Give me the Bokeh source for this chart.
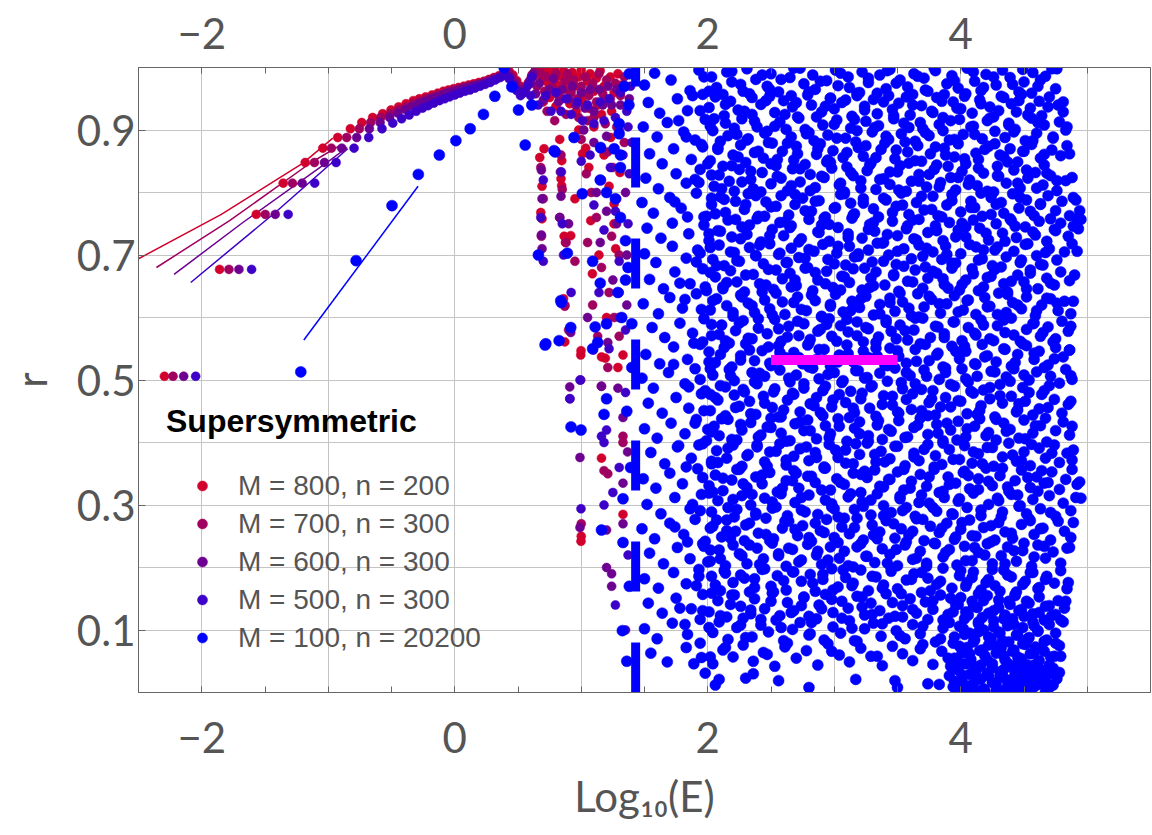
from bokeh.plotting import figure
from bokeh.models import FixedTicker, Legend, LegendItem, LinearAxis
from bokeh.embed import file_html
from bokeh.resources import INLINE

# ---------------- data ----------------
x_major = [-2, 0, 2, 4]
x_minor = [-2.5, -2, -1.5, -1, -0.5, 0, 0.5, 1, 1.5, 2, 2.5, 3, 3.5, 4, 4.5, 5, 5.5]
x_grid = [-2, -1, 0, 1, 2, 3, 4, 5]
y_major = [0.1, 0.3, 0.5, 0.7, 0.9]
y_grid = [0.1, 0.2, 0.3, 0.4, 0.5, 0.6, 0.7, 0.8, 0.9]

labels = ["M = 800, n = 200", "M = 700, n = 300", "M = 600, n = 300",
          "M = 500, n = 300", "M = 100, n = 20200"]
colors = ["#d2002d", "#a0005f", "#6e0091", "#3c00c8", "#0000ff"]

# thin lines of the four large-M series
line800_x = [-2.5, -1.845, -1.20, -0.964]
line800_r = [0.694, 0.765, 0.847, 0.887]
line700_x = [-2.358, -1.78, -1.135, -0.91]
line700_r = [0.680, 0.755, 0.848, 0.875]
line600_x = [-2.219, -1.675, -0.99, -0.85]
line600_r = [0.669, 0.752, 0.851, 0.872]
line500_x = [-2.087, -1.419, -0.846]
line500_r = [0.656, 0.768, 0.870]
line100_x = [-1.193, -0.29]
line100_r = [0.564, 0.81]

# dashed bar and magenta bar
bar_x = [1.43, 1.43]
bar_r = [0.0, 1.0]
mag_x = [2.5, 3.5]
mag_r = [0.532, 0.532]

m800 = [(-2.295,0.506),(-1.859,0.677),(-1.569,0.765),(-1.356,0.815),(-1.182,0.848),(-1.043,0.871),
        (-0.925,0.888),(-0.825,0.902),(-0.735,0.912),(-0.649,0.92),(-0.57,0.926),(-0.504,0.932),
        (-0.444,0.937),(-0.385,0.942),(-0.328,0.947),(-0.28,0.95),(-0.23,0.953),(-0.18,0.956),
        (-0.135,0.959),(-0.09,0.962),(-0.05,0.964),(-0.01,0.966),(0.03,0.968),(0.07,0.97),(0.11,0.972),
        (0.15,0.974),(0.19,0.976),(0.23,0.978),(0.27,0.981),(0.31,0.984),(0.35,0.987),(0.39,0.991),
        (0.43,0.994),(0.46,0.988),(0.49,0.979),(0.52,0.97),(0.55,0.966),(0.58,0.975),(0.61,0.988),(0.64,0.997),
        (0.66,0.995),(0.69,0.982),(0.72,0.996),(0.74,0.975),(0.76,0.99),(0.79,0.998),(0.81,0.972),(0.83,0.986),
        (0.86,0.995),(0.88,0.965),(0.9,0.98),(0.93,0.992),(0.95,0.97),(0.98,0.985),(1.0,0.996),(1.02,0.958),
        (1.05,0.978),(1.07,0.99),(1.1,0.962),(1.12,0.983),(1.15,0.995),(1.18,0.97),(1.2,0.948),(1.23,0.985),
        (1.26,0.96),(1.29,0.99),(1.32,0.972),(0.7,0.945),(0.75,0.952),(0.8,0.938),(0.85,0.95),(0.91,0.942),
        (0.96,0.93),(1.01,0.945),(1.06,0.935),(1.13,0.94),(1.16,0.925),(1.24,0.93),
        (0.706,0.87),(0.672,0.856),(0.69,0.81),(0.68,0.768),(0.69,0.758),(0.83,0.885),(0.846,0.851),
        (0.84,0.822),(0.845,0.811),(0.865,0.73),(0.875,0.72),(0.86,0.63),(0.87,0.62),(0.87,0.561),
        (0.998,0.547),(0.996,0.54),(1.035,0.871),(1.01,0.862),(1.06,0.84),(1.233,0.888),(1.26,0.782),
        (1.306,0.832),(1.272,0.71),(1.259,0.75),(1.075,0.755),(0.917,0.731),(1.088,0.67),(0.98,0.9),
        (1.1,0.905),(1.18,0.86),(1.0,0.25),(0.998,0.242),(1.16,0.537),(1.19,0.535),(1.29,0.52),(1.33,0.54),
        (1.16,0.375),(1.33,0.285),(1.2,0.6),(1.14,0.7),(1.22,0.81),(0.95,0.79),(1.3,0.64)]

m700 = [(-2.227,0.506),(-1.785,0.677),(-1.498,0.765),(-1.283,0.815),(-1.109,0.848),(-0.975,0.871),
        (-0.854,0.888),(-0.754,0.902),(-0.665,0.912),(-0.585,0.92),(-0.51,0.926),(-0.445,0.932),
        (-0.385,0.937),(-0.33,0.942),(-0.275,0.946),(-0.225,0.95),(-0.175,0.953),(-0.13,0.956),
        (-0.085,0.959),(-0.045,0.962),(-0.005,0.964),(0.035,0.966),(0.075,0.968),(0.115,0.97),
        (0.155,0.972),(0.195,0.974),(0.235,0.977),(0.275,0.98),(0.315,0.983),(0.355,0.986),(0.395,0.99),
        (0.425,0.992),(0.455,0.985),(0.485,0.976),(0.515,0.968),(0.545,0.962),(0.575,0.971),(0.605,0.984),
        (0.635,0.994),
        (0.62,0.985),(0.65,0.97),(0.68,0.99),(0.71,0.962),(0.73,0.985),(0.77,0.968),(0.8,0.99),(0.82,0.955),
        (0.87,0.978),(0.89,0.99),(0.92,0.96),(0.94,0.98),(0.97,0.95),(1.0,0.97),(1.03,0.985),(1.06,0.955),
        (1.09,0.975),(1.12,0.945),(1.14,0.99),(1.17,0.958),(1.2,0.98),(1.23,0.95),(1.27,0.975),(1.31,0.955),
        (1.34,0.985),(0.73,0.93),(0.79,0.915),(0.88,0.925),(0.98,0.92),(1.05,0.915),(1.1,0.92),(1.19,0.91),
        (1.28,0.905),(0.68,0.84),(0.7,0.79),(0.685,0.73),(0.84,0.86),(0.85,0.805),(0.83,0.76),(0.88,0.72),
        (0.87,0.618),(0.9,0.58),(1.0,0.885),(1.04,0.83),(1.08,0.8),(1.12,0.76),(1.16,0.82),(1.21,0.865),
        (1.25,0.84),(1.28,0.79),(1.24,0.73),(1.3,0.7),(1.09,0.62),(1.16,0.68),(1.22,0.64),(1.3,0.57),
        (1.21,0.52),(1.0,0.27),(1.16,0.49),(1.33,0.41),(1.33,0.4),(1.18,0.355),(1.21,0.35),(1.13,0.57),
        (1.26,0.6),(0.95,0.69),(1.05,0.72),(1.34,0.88)]

m600 = [(-2.143,0.506),(-1.706,0.677),(-1.419,0.765),(-1.206,0.815),(-1.03,0.848),(-0.893,0.871),
        (-0.775,0.888),(-0.675,0.902),(-0.59,0.912),(-0.515,0.92),(-0.45,0.927),(-0.39,0.933),
        (-0.335,0.938),(-0.285,0.942),(-0.235,0.946),(-0.19,0.95),(-0.145,0.953),(-0.1,0.956),
        (-0.06,0.959),(-0.02,0.961),(0.02,0.963),(0.06,0.966),(0.1,0.968),(0.14,0.97),(0.18,0.972),
        (0.22,0.974),(0.26,0.977),(0.3,0.98),(0.34,0.983),(0.38,0.987),(0.41,0.99),(0.44,0.984),
        (0.47,0.974),(0.5,0.965),(0.53,0.958),(0.56,0.965),(0.59,0.978),(0.62,0.99),
        (0.6,0.975),(0.64,0.958),(0.67,0.975),(0.7,0.948),(0.75,0.965),(0.78,0.982),(0.82,0.945),(0.85,0.965),
        (0.9,0.95),(0.93,0.97),(0.96,0.94),(1.0,0.96),(1.03,0.935),(1.07,0.965),(1.1,0.93),(1.14,0.965),
        (1.17,0.94),(1.21,0.97),(1.24,0.94),(1.28,0.965),(1.31,0.94),(1.35,0.97),(1.38,0.95),
        (0.685,0.836),(0.69,0.79),(0.685,0.732),(0.69,0.71),(0.835,0.833),(0.84,0.794),(0.83,0.76),(0.9,0.75),
        (0.917,0.576),(0.909,0.489),(0.91,0.47),(0.996,0.5),(0.99,0.376),(0.99,0.264),(1.096,0.548),
        (1.21,0.56),(1.159,0.49),(1.29,0.487),(1.33,0.44),(1.366,0.385),(1.33,0.335),(1.33,0.27),(1.2,0.2),
        (1.24,0.19),(1.24,0.17),(1.2,0.26),(1.02,0.9),(1.1,0.88),(1.2,0.89),(1.3,0.9),(1.12,0.8),(1.2,0.77),
        (1.35,0.8),(1.28,0.75),(1.15,0.72),(1.36,0.7),(1.25,0.66),(1.05,0.6),(1.36,0.62),(1.3,0.6)]

m500 = [(-2.048,0.506),(-1.606,0.677),(-1.317,0.765),(-1.107,0.815),(-0.938,0.848),(-0.796,0.871),
        (-0.68,0.888),(-0.575,0.902),(-0.49,0.911),(-0.42,0.918),(-0.36,0.924),(-0.305,0.93),
        (-0.255,0.935),(-0.21,0.939),(-0.165,0.943),(-0.12,0.947),(-0.08,0.95),(-0.04,0.953),(0.0,0.956),
        (0.04,0.959),(0.08,0.962),(0.12,0.964),(0.16,0.967),(0.2,0.97),(0.24,0.973),(0.28,0.976),
        (0.32,0.98),(0.36,0.984),(0.4,0.988),(0.43,0.982),(0.46,0.972),(0.49,0.963),(0.52,0.955),
        (0.55,0.96),(0.58,0.972),(0.61,0.985),
        (0.6,0.955),(0.66,0.94),(0.72,0.955),(0.76,0.93),(0.8,0.96),(0.84,0.93),(0.88,0.95),(0.92,0.925),
        (0.97,0.945),(1.01,0.915),(1.05,0.94),(1.1,0.91),(1.15,0.945),(1.18,0.915),(1.22,0.95),(1.27,0.92),
        (1.31,0.96),(1.36,0.93),(1.39,0.97),(1.37,0.905),
        (0.7,0.82),(0.68,0.76),(0.7,0.69),(0.843,0.833),(0.85,0.75),(0.86,0.7),(0.92,0.64),(0.998,0.294),
        (0.99,0.5),(0.91,0.47),(1.18,0.4),(1.16,0.41),(1.2,0.42),(1.0,0.85),(1.07,0.86),(1.15,0.87),
        (1.23,0.84),(1.33,0.86),(1.38,0.83),(1.1,0.78),(1.18,0.74),(1.27,0.77),(1.37,0.75),(1.3,0.69),
        (1.35,0.58),(1.22,0.55),(1.14,0.64),(1.35,0.48),(1.3,0.36),(1.25,0.32),(1.37,0.22),(1.27,0.14),
        (1.35,0.1),(1.18,0.3),(1.4,0.88)]

m100_low = [(-1.217,0.513),(-0.78,0.691),(-0.496,0.779),(-0.288,0.829),(-0.122,0.86),(0.009,0.883),
            (0.122,0.902),(0.227,0.925),(0.317,0.954),(0.451,0.969),(0.39,1.0),(0.504,0.932),(0.557,0.876),
            (0.609,0.94),(0.793,0.865),(0.661,0.70),(0.843,0.624),(0.917,0.584),(0.714,0.556),(0.825,0.563),
            (0.919,0.425),(0.998,0.42),(1.325,0.099),(1.2,0.47),(1.18,0.445),(1.33,0.31),(1.16,0.26),
            (1.33,0.24),(1.09,0.55),(1.13,0.56),(0.943,0.888),(0.785,0.867),(1.153,0.872),(1.008,0.798),
            (0.89,0.703),(0.838,0.627),(0.72,0.558),(1.11,0.585),(1.2,0.59),(1.3,0.894),(1.377,0.94),
            (1.3,0.91),(1.26,0.87),(1.31,0.86),(1.15,0.82),(1.31,0.84),(1.2,0.8),(1.27,0.79),(1.35,0.723),
            (1.31,0.76),(1.35,0.66),(1.37,0.68),(1.29,0.64),(1.15,0.655),(1.09,0.69),(1.32,0.6),(1.4,0.59),
            (1.38,0.99),(1.34,0.97),(1.4,0.52),(1.36,0.45),(1.39,0.36),(1.38,0.17),(1.36,0.05)]

# dense cloud of the M = 100 series: (Log10(E) x 100, r x 1000)
m100_cloud = [
 (150,972),(158,991),(171,980),(186,963),(193,996),(203,985),(207,968),(215,993),(219,977),(228,962),(231,998),(238,981),(247,970),(250,990),(256,961),(265,984),(268,999),(276,974),(283,988),(285,965),(294,979),(301,996),(303,971),(311,985),(320,960),(322,993),(327,976),(336,988),(341,966),(344,997),(352,980),(358,969),(363,990),(371,983),(374,962),(380,995),(389,974),(393,987),(398,967),(405,999),(411,978),(416,963),(420,989),(428,972),(433,996),(439,984),(446,961),(450,977),(457,992),(461,970),(467,986),(472,998),(475,966),
 (153,944),(162,927),(176,950),(184,931),(196,957),(201,936),(206,953),(213,923),(218,946),(224,932),(233,958),(235,925),(242,941),(249,954),(253,928),(260,947),(267,937),(271,921),(279,956),(282,940),(290,929),(297,951),(300,934),(306,944),(314,922),(318,959),(324,938),(331,949),(334,926),(343,955),(346,933),(351,943),(360,924),(362,957),(369,939),(377,930),(381,952),(386,920),(394,945),(397,935),(404,958),(409,927),(415,948),(423,937),(426,921),(432,954),(440,942),(444,929),(448,957),(455,935),(462,946),(464,923),(470,953),(477,940),(481,929),
 (149,905),(160,889),(168,912),(181,897),(190,884),(198,917),(204,899),(210,882),(214,911),(223,893),(227,918),(232,886),(239,905),(245,895),(248,880),(257,913),(262,901),(266,889),(272,919),(280,896),(284,883),(291,908),(295,892),(302,916),(309,887),(313,903),(317,881),(325,914),(330,897),(335,907),(343,885),(347,918),(353,894),(359,904),(364,882),(368,912),(375,891),(383,909),(386,899),(391,884),(399,917),(402,893),(410,906),(417,886),(421,915),(427,898),(435,888),(438,911),(443,901),(451,883),(456,919),(460,895),(466,908),(473,887),(478,913),(483,900),
 (154,862),(164,846),(173,870),(187,853),(195,877),(202,851),(208,869),(212,842),(220,860),(226,876),(230,848),(237,864),(244,855),(251,879),(254,843),(259,866),(268,852),(270,874),(277,845),(286,861),(289,878),(294,849),(299,867),(307,856),(310,841),(319,872),(323,858),(329,847),(337,869),(340,879),(348,854),(352,843),(358,865),(366,875),(369,850),(376,862),(381,844),(387,871),(395,857),(398,878),(404,846),(412,863),(414,853),(422,874),(429,842),(431,860),(439,870),(445,849),(449,866),(456,877),(463,855),(466,844),(472,868),(479,859),(484,875),
 (151,823),(161,806),(175,830),(183,815),(194,837),(205,810),(209,828),(217,818),(221,802),(225,837),(234,821),(236,806),(243,832),(250,814),(255,826),(263,803),(267,838),(273,817),(281,829),(285,808),(292,824),(298,839),(304,812),(308,801),(315,827),(321,819),(326,835),(333,805),(339,822),(344,813),(350,833),(357,802),(361,818),(367,829),(373,809),(379,837),(384,816),(392,824),(396,804),(401,834),(407,820),(413,811),(418,831),(426,801),(430,826),(436,815),(442,836),(447,807),(453,823),(459,832),(465,812),(471,827),(476,803),(483,819),
 (148,784),(157,767),(170,792),(179,775),(191,799),(199,762),(203,781),(210,793),(214,768),(222,786),(229,773),(232,798),(240,762),(246,785),(250,777),(258,795),(264,764),(269,781),(275,791),(282,770),(288,787),(293,761),(301,776),(305,797),(313,783),(316,766),(323,790),(331,774),(335,761),(341,788),(349,778),(353,799),(359,765),(365,784),(371,772),(378,794),(382,763),(389,780),(393,797),(400,769),(408,786),(411,776),(417,762),(424,792),(428,781),(434,767),(441,798),(446,775),(452,788),(458,763),(463,782),(469,795),(475,771),(480,786),(486,763),(489,792),
 (152,743),(163,727),(172,751),(185,734),(197,748),(201,723),(208,739),(216,756),(219,729),(227,745),(231,733),(239,758),(242,721),(251,741),(257,752),(260,731),(266,747),(274,726),(280,757),(287,737),(290,748),(296,722),(303,744),(311,734),(314,759),(322,727),(328,749),(332,738),(339,720),(346,754),(350,731),(357,742),(363,726),(367,757),(374,736),(380,747),(386,723),(391,752),(398,740),(404,729),(410,756),(415,743),(422,724),(428,750),(433,735),(439,758),(444,728),(451,745),(457,737),(462,754),(468,722),(474,741),(479,751),(485,730),(489,746),(492,758),
 (150,702),(159,688),(172,714),(183,695),(192,708),(204,693),(209,716),(213,683),(221,704),(225,690),(233,712),(238,699),(244,686),(249,718),(256,701),(263,688),(266,711),(272,696),(279,680),(284,706),(291,717),(295,693),(302,703),(309,684),(312,714),(319,698),(327,708),(330,689),(338,719),(343,700),(349,685),(355,710),(361,694),(367,716),(372,681),(378,705),(385,693),(388,714),(396,687),(400,702),(407,717),(414,692),(418,708),(425,683),(429,713),(436,697),(442,706),(447,688),(453,718),(460,699),(465,684),(470,710),(476,692),(482,705),(488,718),
 (154,661),(165,646),(174,673),(186,654),(196,678),(199,643),(206,665),(212,649),(218,675),(223,657),(229,641),(236,669),(241,654),(248,677),(252,645),(259,662),(265,671),(270,651),(277,679),(283,643),(287,660),(294,674),(299,648),(306,666),(312,656),(315,678),(322,644),(329,663),(333,673),(340,652),(347,667),(351,642),(358,658),(364,676),(370,647),(374,663),(381,671),(387,653),(393,679),(399,644),(404,660),(410,670),(418,649),(421,664),(427,677),(434,654),(437,641),(445,668),(450,657),(455,676),(461,646),(468,663),(474,652),(479,673),(486,659),
 (149,622),(161,606),(170,632),(180,615),(191,638),(202,612),(207,630),(215,619),(220,602),(226,636),(232,623),(237,608),(245,628),(249,614),(254,639),(261,605),(268,624),(271,633),(278,611),(285,627),(290,601),(297,618),(301,637),(307,609),(314,626),(320,616),(325,634),(331,604),(336,621),(344,631),(348,610),(354,625),(361,603),(366,638),(371,617),(377,629),(384,607),(389,622),(395,635),(402,612),(405,627),(412,605),(419,632),(423,618),(430,639),(436,608),(441,624),(448,614),(452,633),(459,603),(464,620),(471,630),(477,611),(482,626),(487,606),
 (156,584),(166,568),(178,591),(188,575),(197,598),(203,571),(211,588),(214,563),(222,579),(228,595),(235,566),(240,583),(247,574),(253,597),(258,562),(264,586),(272,571),(276,590),(281,565),(289,581),(296,598),(298,570),(305,587),(311,577),(318,593),(323,561),(327,582),(335,569),(341,596),(345,578),(352,588),(358,564),(363,580),(370,599),(376,568),(382,585),(387,574),(394,593),(401,563),(406,584),(412,572),(416,596),(423,566),(429,587),(435,576),(440,599),(447,562),(452,581),(458,591),(463,570),(469,585),(475,566),(480,594),(485,578),
 (151,541),(162,526),(173,553),(184,533),(194,557),(201,545),(206,528),(213,552),(219,521),(226,539),(230,558),(237,531),(243,547),(250,523),(256,555),(261,536),(268,544),(275,526),(280,559),(286,533),(292,549),(297,522),(304,540),(310,556),(315,529),(323,546),(327,536),(333,560),(340,524),(344,551),(351,538),(357,527),(364,549),(368,558),(375,531),(382,543),(386,521),(393,554),(399,534),(404,546),(411,526),(417,557),(421,539),(428,529),(434,550),(440,522),(445,541),(452,555),(458,533),(462,546),(469,524),(475,552),(481,537),(486,548),
 (148,503),(157,487),(169,512),(182,494),(190,518),(198,483),(204,508),(210,491),(217,517),(221,499),(228,485),(235,512),(239,494),(245,506),(252,481),(257,516),(265,497),(270,508),(276,487),(283,519),(288,502),(293,490),(300,512),(306,496),(313,482),(317,515),(324,503),(329,489),(336,511),(342,498),(348,519),(354,486),(360,507),(364,494),(371,516),(378,483),(383,501),(388,512),(395,490),(401,518),(406,497),(413,506),(418,484),(424,514),(431,493),(436,505),(442,518),(449,488),(454,500),(460,513),(466,483),(471,506),(478,495),(483,517),(488,501),
 (153,463),(164,447),(175,472),(185,455),(195,478),(202,451),(208,468),(214,443),(221,476),(225,458),(233,466),(238,445),(244,474),(251,456),(256,441),(263,468),(267,479),(273,449),(281,462),(286,472),(291,443),(298,457),(304,477),(309,464),(316,448),(321,470),(328,455),(333,442),(339,475),(346,460),(350,449),(357,469),(362,478),(369,451),(375,464),(380,444),(388,472),(392,457),(398,467),(405,446),(410,479),(416,459),(423,470),(427,441),(433,463),(440,474),(445,452),(451,466),(457,444),(464,477),(469,456),(474,469),(480,447),(485,461),
 (150,422),(160,407),(171,431),(182,414),(191,437),(199,403),(205,426),(209,411),(216,437),(223,404),(227,420),(234,432),(240,409),(247,425),(250,439),(258,415),(262,402),(269,430),(276,419),(279,436),(286,406),(293,427),(297,414),(303,438),(310,402),(316,423),(320,433),(327,411),(334,428),(338,405),(345,418),(351,435),(356,408),(363,424),(368,439),(374,413),(381,429),(386,403),(392,420),(398,434),(404,409),(411,426),(415,438),(422,416),(428,404),(434,431),(439,421),(446,407),(450,436),(457,415),(463,427),(468,401),(475,419),(481,433),(486,412),
 (155,384),(166,366),(176,393),(187,375),(196,398),(203,366),(207,387),(215,375),(220,396),(227,362),(232,381),(239,393),(245,369),(249,385),(257,398),(262,364),(268,378),(273,390),(280,371),(285,384),(292,361),(296,397),(303,376),(309,388),(315,366),(320,381),(326,399),(333,369),(337,386),(344,374),(350,394),(356,363),(363,383),(367,371),(374,397),(380,379),(385,365),(391,389),(399,373),(403,395),(409,367),(414,382),(421,392),(426,362),(433,377),(438,399),(444,370),(450,385),(455,363),(462,391),(467,375),(474,396),(478,368),(484,383),(488,372),
 (149,342),(159,327),(170,351),(180,334),(192,358),(201,331),(206,348),(212,323),(219,340),(225,357),(231,328),(238,345),(243,334),(249,352),(255,321),(262,339),(268,355),(272,327),(279,346),(285,336),(292,359),(297,324),(302,342),(308,333),(315,351),(321,320),(326,344),(332,356),(339,329),(343,341),(350,353),(355,324),(361,338),(368,349),(373,330),(379,357),(386,322),(390,345),(396,335),(403,354),(407,326),(414,342),(420,359),(425,331),(431,347),(438,322),(443,339),(448,356),(455,328),(460,345),(466,335),(472,353),(478,325),(483,341),(488,357),(492,333),
 (152,301),(163,286),(174,312),(186,294),(195,317),(203,289),(208,307),(216,296),(221,281),(227,315),(234,300),(238,287),(245,311),(251,295),(258,318),(263,283),(269,304),(274,292),(280,316),(287,285),(293,308),(298,297),(303,281),(311,313),(316,293),(322,305),(329,284),(334,318),(339,299),(345,288),(352,310),(357,296),(364,282),(369,316),(375,303),(381,290),(387,312),(394,285),(398,306),(405,296),(410,319),(416,283),(422,301),(429,311),(433,289),(440,317),(446,298),(452,286),(457,309),(463,294),(470,315),(475,282),(481,303),(487,291),(491,312),
 (148,262),(158,246),(170,271),(181,253),(190,277),(198,242),(204,266),(211,249),(215,276),(222,258),(229,243),(233,271),(240,255),(246,279),(252,246),(259,263),(264,274),(271,251),(275,267),(282,242),(289,259),(294,277),(300,248),(306,265),(312,254),(318,279),(323,244),(330,268),(336,257),(341,275),(348,247),(353,262),(359,252),(365,278),(371,243),(376,266),(383,256),(389,271),(395,245),(400,261),(407,276),(412,250),(418,264),(424,241),(430,272),(435,257),(441,247),(448,269),(454,278),(458,253),(465,263),(471,244),(477,274),(482,258),(487,248),
 (154,223),(165,206),(176,232),(186,214),(196,238),(202,210),(209,228),(214,203),(220,236),(227,219),(231,206),(239,231),(244,214),(251,239),(256,222),(262,202),(267,229),(274,212),(279,237),(286,220),(290,205),(297,233),(304,215),(308,226),(315,201),(321,238),(325,218),(332,208),(338,230),(344,221),(350,203),(356,236),(362,213),(368,226),(373,207),(379,239),(386,217),(391,229),(397,204),(403,234),(409,211),(414,224),(421,238),(425,206),(432,219),(437,233),(444,210),(449,227),(456,202),(461,236),(467,215),(473,225),(479,207),(484,231),
 (150,182),(161,167),(173,192),(183,174),(193,197),(203,186),(210,163),(213,195),(220,176),(226,188),(233,161),(237,182),(243,197),(250,170),(255,187),(262,164),(267,193),(274,178),(281,189),(285,162),(291,181),(298,198),(303,169),(309,184),(315,175),(321,196),(327,163),(333,185),(339,172),(345,194),(350,166),(357,180),(363,190),(369,160),(374,183),(381,173),(386,199),(393,167),(399,187),(405,176),(410,193),(416,164),(422,181),(427,171),(434,196),(440,185),(444,161),(451,178),(457,192),(462,168),(468,186),(474,175),(479,195),(484,166),
 (153,143),(164,127),(175,151),(187,134),(196,157),(201,129),(208,147),(215,121),(219,156),(226,138),(234,126),(237,150),(245,134),(251,159),(257,123),(263,144),(268,131),(276,153),(280,122),(288,140),(293,157),(299,128),(306,146),(311,135),(318,154),(324,124),(329,143),(336,131),(341,158),(348,122),(354,139),(360,150),(365,127),(372,145),(378,133),(384,156),(390,125),(396,141),(400,152),(404,129),(409,146),(413,136),(417,120),(421,155),(426,131),(430,148),(435,124),(439,141),(443,157),(448,133),(452,146),(457,126),(462,153),(467,138),(472,123),(477,147),(482,135),
 (150,102),(160,86),(172,111),(184,93),(194,117),(204,96),(209,113),(216,85),(223,104),(228,119),(235,89),(242,108),(248,97),(254,116),(260,83),(267,101),(273,112),(280,92),(286,118),(292,84),(299,105),(305,95),(312,115),(318,82),(324,102),(331,111),(337,90),(343,119),(349,99),(356,86),(362,109),(368,94),(374,117),(380,81),(386,103),(391,112),(395,89),(399,106),(403,118),(407,95),(411,84),(414,110),(418,100),(422,89),(426,115),(430,97),(433,83),(437,107),(441,118),(445,92),(449,104),(453,86),(457,113),(461,98),(466,82),(470,109),(475,95),(479,116),
 (155,63),(168,49),(183,72),(195,56),(204,46),(212,68),(220,57),(228,76),(236,50),(244,64),(253,42),(261,73),(270,55),(278,67),(287,44),(295,78),(304,60),(312,49),(321,71),(329,58),(338,43),(346,74),(354,62),(362,51),(370,77),(378,45),(385,66),(390,55),(394,79),(398,48),(401,63),(405,72),(408,53),(412,41),(415,67),(419,59),(422,76),(425,46),(428,63),(432,72),(435,52),(438,42),(442,68),(445,57),(449,78),(452,45),(455,62),(459,73),(462,51),(466,66),(470,44),(474,58),(478,75),
 (206,12),(209,21),(230,23),(236,30),(256,19),(280,8),(317,21),(348,19),(350,8),(374,14),(383,13),(391,27),(394,9),(398,36),(401,18),(404,4),(407,29),(410,13),(413,38),(416,22),(418,6),(421,31),(425,16),(428,3),(431,26),(434,37),(437,11),(440,20),(443,33),(446,5),(449,24),(452,14),(455,35),(458,9),(461,28),(464,18),(467,2),(470,31),(473,12),(476,22),
 (476,998),(481,945),(484,905),(486,862),(488,824),(491,788),(494,771),(493,742),(495,757),(492,706),(490,668),(489,626),(487,586),(486,548),(487,507),(487,466),(488,426),(489,388),(494,337),(495,311),(489,272),(486,232),(485,176),(483,146),(481,113),(479,58),(478,32)]

# further points of the same cloud, read in r bands of 0.05
m100_cloud2 = [
 (212,957),(219,994),(226,973),(235,952),(243,988),(249,965),(258,981),(266,955),(273,999),(280,961),(289,978),(297,951),(305,991),(312,968),(318,955),(327,983),(334,959),(342,995),(349,975),(357,953),(366,986),(372,964),(379,999),(387,957),(395,979),(403,954),(410,993),(418,968),(426,985),(434,952),(441,973),(449,997),(456,959),(463,980),
 (205,918),(214,941),(221,903),(229,930),(237,914),(246,947),(253,906),(261,925),(270,944),(277,901),(286,921),(293,938),(300,909),(309,948),(316,917),(324,932),(332,904),(339,945),(347,923),(355,911),(362,940),(370,902),(378,928),(385,946),(392,915),(400,934),(408,905),(416,942),(423,919),(430,931),(438,908),(446,947),(453,924),(461,912),(469,937),
 (208,872),(216,891),(224,857),(231,884),(240,866),(247,898),(255,853),(263,879),(271,862),(278,894),(287,870),(295,852),(302,887),(310,864),(318,899),(325,875),(333,856),(341,890),(349,868),(356,881),(364,851),(372,896),(380,873),(388,860),(395,885),(403,854),(411,893),(419,869),(427,878),(434,857),(442,897),(450,866),(457,883),(466,861),(473,889),
 (203,828),(211,806),(219,843),(227,817),(234,834),(242,801),(250,846),(258,823),(266,811),(273,838),(281,803),(290,826),(297,848),(305,815),(313,832),(321,807),(328,844),(336,821),(344,833),(351,804),(359,847),(367,818),(375,829),(383,809),(390,842),(398,824),(406,813),(414,839),(421,802),(429,827),(437,849),(445,815),(452,836),(460,807),(468,831),(476,819),
 (206,766),(213,789),(222,757),(230,781),(238,795),(245,762),(254,778),(261,753),(269,797),(277,771),(285,786),(292,759),(300,775),(308,798),(315,764),(323,783),(331,752),(339,791),(346,768),(354,780),(362,756),(369,794),(377,773),(385,761),(393,787),(401,751),(408,776),(416,799),(424,765),(432,784),(440,755),(447,792),(455,770),(463,781),(471,758),
 (202,712),(210,738),(218,705),(226,726),(233,748),(241,716),(249,731),(257,703),(265,744),(272,721),(280,709),(288,736),(296,749),(303,714),(311,728),(319,702),(327,741),(334,719),(342,733),(350,706),(358,747),(365,724),(373,711),(381,739),(389,701),(396,729),(404,745),(412,713),(420,735),(427,708),(435,722),(443,746),(451,717),(459,732),(467,704),(475,739),
 (207,683),(215,656),(223,691),(230,668),(238,699),(246,652),(254,676),(262,688),(269,660),(277,695),(285,672),(293,654),(300,686),(308,665),(316,697),(324,679),(331,651),(339,690),(347,669),(355,682),(362,657),(370,698),(378,674),(386,662),(393,687),(401,653),(409,678),(417,694),(424,666),(432,681),(440,658),(448,692),(455,671),(463,685),(471,655),
 (204,627),(212,646),(220,608),(227,633),(235,619),(243,641),(251,604),(259,625),(266,649),(274,613),(282,636),(290,602),(297,621),(305,644),(313,611),(321,630),(328,648),(336,606),(344,624),(352,639),(359,615),(367,601),(375,634),(383,622),(390,647),(398,609),(406,628),(414,643),(421,617),(429,605),(437,637),(445,620),(452,646),(460,611),(468,631),(476,623),
 (209,573),(217,559),(225,591),(232,567),(240,598),(248,553),(256,582),(263,569),(271,594),(279,556),(287,578),(294,589),(302,562),(310,597),(318,571),(325,584),(333,551),(341,592),(349,566),(356,579),(364,599),(372,557),(380,586),(387,568),(395,593),(403,554),(411,575),(418,588),(426,563),(434,596),(442,572),(449,558),(457,590),(465,576),(473,561),
 (202,518),(210,541),(218,507),(226,532),(233,548),(241,511),(249,527),(257,544),(264,503),(272,536),(280,521),(288,549),(295,509),(303,529),(311,542),(319,515),(326,504),(334,538),(342,523),(350,547),(357,512),(365,530),(373,506),(381,540),(388,519),(396,546),(404,502),(412,525),(419,537),(427,513),(435,549),(443,528),(450,508),(458,543),(466,520),(474,534),
 (206,472),(214,489),(222,456),(229,481),(237,497),(245,463),(253,486),(260,452),(268,477),(276,494),(284,459),(291,483),(299,468),(307,499),(315,455),(322,479),(330,491),(338,461),(346,474),(353,496),(361,453),(369,485),(377,470),(384,457),(392,493),(400,466),(408,482),(415,451),(423,488),(431,475),(439,498),(446,462),(454,480),(462,454),(470,491),
 (203,417),(211,438),(219,405),(226,429),(234,446),(242,412),(250,424),(258,441),(265,403),(273,433),(281,419),(289,448),(296,408),(304,426),(312,440),(320,414),(327,402),(335,435),(343,421),(351,447),(358,409),(366,428),(374,443),(382,415),(389,431),(397,404),(405,422),(413,445),(420,411),(428,437),(436,418),(444,449),(451,406),(459,427),(467,439),
 (208,368),(216,391),(223,357),(231,379),(239,396),(247,362),(254,386),(262,372),(270,351),(278,393),(286,376),(293,359),(301,388),(309,367),(317,398),(324,354),(332,381),(340,369),(348,394),(355,357),(363,377),(371,389),(379,361),(386,399),(394,373),(402,352),(410,385),(417,366),(425,392),(433,359),(441,380),(448,371),(456,397),(464,355),(472,383),
 (204,321),(212,343),(220,309),(228,334),(235,317),(243,348),(251,305),(259,327),(267,339),(274,312),(282,346),(290,324),(298,302),(305,336),(313,318),(321,349),(329,308),(336,330),(344,341),(352,314),(360,327),(367,304),(375,345),(383,320),(391,333),(399,310),(406,347),(414,325),(422,338),(430,307),(437,329),(445,316),(453,344),(461,322),(469,336),
 (207,276),(215,259),(223,293),(230,268),(238,284),(246,253),(254,297),(261,274),(269,261),(277,289),(285,271),(292,256),(300,294),(308,279),(316,264),(323,298),(331,252),(339,283),(347,270),(354,291),(362,258),(370,277),(378,296),(385,263),(393,286),(401,272),(409,251),(416,292),(424,267),(432,281),(440,255),(447,299),(455,275),(463,262),(471,288),
 (202,228),(210,214),(218,247),(225,222),(233,236),(241,205),(249,243),(256,219),(264,231),(272,209),(280,248),(287,226),(295,212),(303,240),(311,203),(318,233),(326,218),(334,246),(342,207),(349,229),(357,241),(365,215),(373,202),(380,238),(388,224),(396,249),(404,211),(411,232),(419,220),(427,244),(435,206),(442,227),(450,239),(458,217),(466,234),
 (206,172),(214,191),(221,156),(229,183),(237,168),(245,198),(252,161),(260,179),(268,193),(276,152),(283,175),(291,189),(299,164),(307,196),(314,171),(322,153),(330,186),(338,167),(345,199),(353,158),(361,181),(369,192),(376,163),(384,178),(392,151),(400,195),(404,170),(409,184),(414,158),(420,176),(425,197),(431,162),(437,188),(443,155),(449,173),(455,192),(461,166),(467,181),
 (210,123),(218,141),(226,108),(234,132),(242,117),(250,146),(258,104),(266,128),(274,139),(282,112),(290,134),(298,149),(306,119),(314,103),(322,137),(330,125),(338,110),(346,144),(354,121),(362,133),(370,106),(378,147),(386,116),(394,129),(398,141),(402,102),(406,124),(410,138),(414,113),(418,147),(422,127),(426,105),(430,136),(434,118),(438,146),(442,109),(446,131),(450,122),(454,143),(458,107),(462,128),(466,116),(470,139),(475,125),
 (214,72),(230,88),(247,61),(263,79),(281,94),(298,66),(316,83),(334,58),(352,91),(368,70),(384,86),(395,55),(399,74),(403,93),(407,62),(410,81),(414,97),(417,68),(421,52),(424,86),(428,74),(431,95),(434,59),(438,81),(441,66),(444,92),(448,54),(451,77),(454,88),(458,63),(461,99),(464,71),(468,84),(471,57),(475,79),
 (392,42),(395,18),(398,6),(401,28),(404,46),(407,11),(410,34),(413,21),(416,44),(419,3),(422,27),(425,40),(428,13),(431,33),(434,24),(437,47),(440,7),(443,29),(446,16),(449,41),(452,4),(455,25),(458,44),(461,13),(464,36),(467,22),(470,8),(473,39),(451,32),(433,2),(412,1),(445,48)]

# points of the cloud near its left edge (Log10(E) about 1.7 to 2.0)
m100_edge = [
 (197,985),(201,962),(194,931),(202,906),(196,873),(200,846),(193,816),(203,791),(197,761),(201,734),
 (194,703),(202,672),(198,649),(195,613),(203,589),(196,561),(201,529),(194,501),(202,477),(197,451),
 (200,421),(193,396),(203,370),(196,344),(201,319),(194,291),(202,263),(197,234),(200,209),(193,186),
 (203,159),(196,131),(201,104),(194,79),(202,57),(198,31),(188,955),(183,889),(190,821),(184,761),
 (191,689),(182,629),(189,559),(185,489),(190,431),(183,361),(188,301),(184,241),(191,171),(182,109),
 (189,46),(177,915),(174,785),(178,655),(173,525),(177,395),(174,265),(178,135)]

# ---------------- figure ----------------
FONT_TICK = "Lato"
FONT_LEG = "Liberation Sans"
GRAY = "#555555"
FRAME = "#666666"

p = figure(width=1152, height=835, x_range=(-2.5, 5.5), y_range=(0, 1),
           output_backend="svg", toolbar_location=None,
           min_border_left=138, min_border_right=2, min_border_top=67, min_border_bottom=143)
p.background_fill_color = "white"
p.outline_line_color = FRAME
p.outline_line_width = 1

bottom_axis = p.below[0]
top_axis = LinearAxis()
p.add_layout(top_axis, "above")

overrides = {-2: "\u22122", 0: "0", 2: "2", 4: "4"}
for ax in (bottom_axis, top_axis):
    ax.ticker = FixedTicker(ticks=x_major, minor_ticks=x_minor)
    ax.major_label_overrides = overrides
    ax.major_label_text_font = FONT_TICK
    ax.major_label_text_font_size = "42px"
    ax.major_label_text_color = GRAY
    ax.axis_line_color = FRAME
    ax.major_tick_line_color = FRAME
    ax.minor_tick_line_color = FRAME
    ax.major_tick_in = 6
    ax.major_tick_out = 0
    ax.minor_tick_in = 6
    ax.minor_tick_out = 0
bottom_axis.major_label_standoff = 29
top_axis.major_label_standoff = 19

bottom_axis.axis_label = "Log\u2081\u2080(E)"
bottom_axis.axis_label_text_font = FONT_TICK
bottom_axis.axis_label_text_font_size = "42px"
bottom_axis.axis_label_text_font_style = "normal"
bottom_axis.axis_label_text_color = GRAY
bottom_axis.axis_label_standoff = 15

ya = p.left[0]
ya.ticker = FixedTicker(ticks=y_major, minor_ticks=[])
ya.major_label_text_font = FONT_TICK
ya.major_label_text_font_size = "42px"
ya.major_label_text_color = GRAY
ya.axis_line_color = FRAME
ya.major_tick_line_color = FRAME
ya.major_tick_in = 7
ya.major_tick_out = 0
ya.minor_tick_line_color = None
ya.major_label_standoff = 3
ya.axis_label = "r"
ya.axis_label_text_font = FONT_TICK
ya.axis_label_text_font_size = "42px"
ya.axis_label_text_font_style = "normal"
ya.axis_label_text_color = GRAY
ya.axis_label_standoff = 18

p.xgrid.ticker = FixedTicker(ticks=x_grid)
p.ygrid.ticker = FixedTicker(ticks=y_grid)
for g in (p.xgrid, p.ygrid):
    g.grid_line_color = "#c4c4c4"
    g.grid_line_width = 1

# lines
p.line(line800_x, line800_r, color=colors[0], line_width=1.5)
p.line(line700_x, line700_r, color=colors[1], line_width=1.5)
p.line(line600_x, line600_r, color=colors[2], line_width=1.5)
p.line(line500_x, line500_r, color=colors[3], line_width=1.5)
p.line(line100_x, line100_r, color=colors[4], line_width=1.5)

# scatter series
renderers = []
for pts, c in zip([m800, m700, m600, m500], colors[:4]):
    xs = [a for a, b in pts]
    ys = [b for a, b in pts]
    r = p.scatter(xs, ys, size=9, fill_color=c, line_color=c, line_width=0.5)
    renderers.append(r)

cloud = m100_cloud + m100_cloud2 + m100_edge
blue_x = [a for a, b in m100_low] + [a / 100.0 for a, b in cloud]
blue_y = [b for a, b in m100_low] + [b / 1000.0 for a, b in cloud]
rb = p.scatter(blue_x, blue_y, size=11, fill_color=colors[4], line_color=colors[4], line_width=0.5)
renderers.append(rb)

# dashed bar and magenta bar
p.line(bar_x, bar_r, color=colors[4], line_width=9, line_dash="50 51", line_cap="butt")
p.line(mag_x, mag_r, color="#ff00ff", line_width=10, line_cap="butt")

legend = Legend(items=[LegendItem(label=l, renderers=[r]) for l, r in zip(labels, renderers)],
                location=(28, 37), title="Supersymmetric")
legend.title_text_font = FONT_LEG
legend.title_text_font_size = "32px"
legend.title_text_font_style = "bold"
legend.title_text_color = "black"
legend.title_standoff = 28
legend.label_text_font = FONT_LEG
legend.label_text_font_size = "28px"
legend.label_text_color = GRAY
legend.glyph_width = 72
legend.glyph_height = 25
legend.label_height = 35
legend.label_standoff = 0
legend.spacing = 3
legend.padding = 0
legend.margin = 0
legend.border_line_color = None
legend.background_fill_alpha = 0
p.add_layout(legend)

open("out.html", "w").write(file_html(p, INLINE))
